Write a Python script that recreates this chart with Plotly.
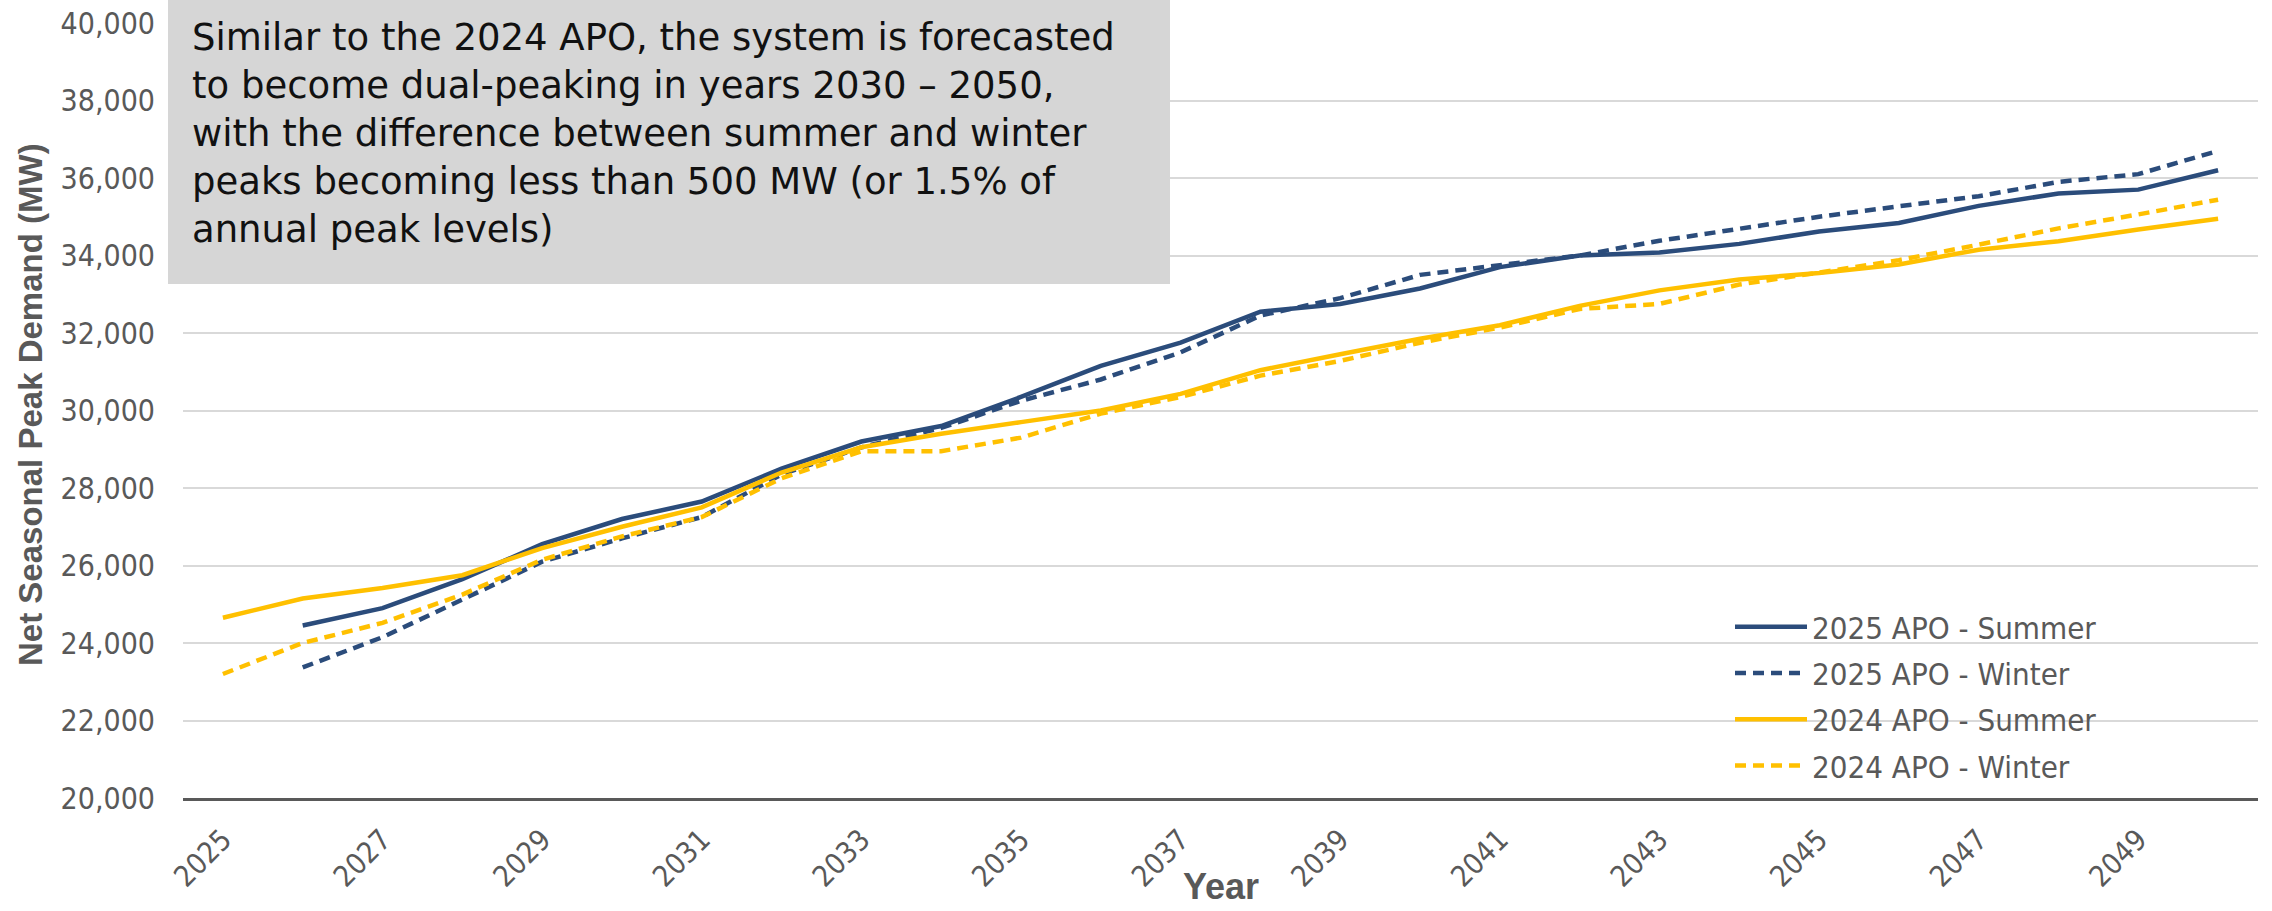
import plotly.graph_objects as go

# Forecast years (category axis, one point per year)
years = list(range(2025, 2051))
tick_years = list(range(2025, 2050, 2))

# 2025 APO forecasts start in 2026
years_2025apo = list(range(2026, 2051))
apo2025_summer = [24450, 24900, 25650, 26550, 27200, 27650, 28500, 29200, 29600,
                  30350, 31150, 31750, 32550, 32750, 33150, 33700, 34000, 34080,
                  34300, 34620, 34840, 35280, 35600, 35700, 36200]
apo2025_winter = [23370, 24150, 25120, 26100, 26700, 27250, 28350, 29050, 29550,
                  30250, 30800, 31500, 32450, 32900, 33500, 33750, 34000, 34380,
                  34700, 35000, 35270, 35530, 35900, 36100, 36700]

# 2024 APO forecasts start in 2025
years_2024apo = list(range(2025, 2051))
apo2024_summer = [24650, 25150, 25420, 25750, 26450, 27000, 27500, 28400, 29050,
                  29400, 29700, 30000, 30430, 31040, 31450, 31850, 32200, 32700,
                  33100, 33380, 33550, 33770, 34150, 34370, 34670, 34950]
apo2024_winter = [23200, 24000, 24520, 25250, 26150, 26750, 27250, 28250, 28950,
                  28950, 29300, 29920, 30350, 30900, 31280, 31750, 32140, 32620,
                  32750, 33250, 33560, 33880, 34280, 34700, 35060, 35440]

series = [
    ("2025 APO - Summer", years_2025apo, apo2025_summer, "#2b4c7b", "solid"),
    ("2025 APO - Winter", years_2025apo, apo2025_winter, "#2b4c7b", "11px,7px"),
    ("2024 APO - Summer", years_2024apo, apo2024_summer, "#ffc000", "solid"),
    ("2024 APO - Winter", years_2024apo, apo2024_winter, "#ffc000", "11px,7px"),
]

note = ("Similar to the 2024 APO, the system is forecasted<br>"
        "to become dual-peaking in years 2030 \u2013 2050,<br>"
        "with the difference between summer and winter<br>"
        "peaks becoming less than 500 MW (or 1.5% of<br>"
        "annual peak levels)")

W, H = 2272, 911
L, R, T, B = 183, 14, 23, 113
PW, PH = W - L - R, H - T - B


def px_x(p):
    return (p - L) / PW


def px_y(p):
    return (H - B - p) / PH


FONT = "DejaVu Sans Condensed, DejaVu Sans, sans-serif"
NOTE_FONT = "DejaVu Sans, sans-serif"
TITLE_FONT = "Liberation Sans Narrow, Liberation Sans, sans-serif"
GREY = "#595959"

fig = go.Figure()
for i, (name, xs, ys, color, dash) in enumerate(series):
    fig.add_trace(go.Scatter(
        x=xs, y=ys, name=name, mode="lines",
        line=dict(color=color, width=4.5, dash=dash),
        legendgroup=f"g{i}",
    ))

fig.update_layout(
    width=W, height=H,
    margin=dict(l=L, r=R, t=T, b=B, autoexpand=False),
    paper_bgcolor="white", plot_bgcolor="white",
    font=dict(family=FONT, color=GREY, size=30),
    xaxis=dict(
        range=[2024.5, 2050.5], automargin=False,
        tickmode="array", tickvals=tick_years,
        ticktext=[str(y) for y in tick_years],
        tickangle=-45, showgrid=False, zeroline=False,
        showline=True, linecolor=GREY, linewidth=3,
        ticks="", tickfont=dict(size=29, color=GREY),
        ticklabelstandoff=10,
    ),
    yaxis=dict(
        range=[20000, 40000], dtick=2000, automargin=False,
        tickformat=",d", showgrid=True, gridcolor="#d9d9d9", gridwidth=2,
        zeroline=False, showline=False, ticks="",
        tickfont=dict(size=30, color=GREY),
        ticklabelstandoff=27,
    ),
    legend=dict(
        x=px_x(1730), y=px_y(600), xanchor="left", yanchor="top",
        bgcolor="rgba(0,0,0,0)", font=dict(size=31, color=GREY),
        itemwidth=72, tracegroupgap=3, traceorder="grouped",
    ),
    showlegend=True,
)

# Grey callout box with the note
fig.add_shape(
    type="rect", xref="paper", yref="paper",
    x0=px_x(168), x1=px_x(1170), y0=px_y(284), y1=px_y(-2),
    fillcolor="#d6d6d6", line=dict(width=0), layer="above",
)
fig.add_annotation(
    xref="paper", yref="paper", x=px_x(190), y=px_y(14),
    xanchor="left", yanchor="top", align="left", showarrow=False,
    text=note, font=dict(family=NOTE_FONT, size=37, color="#111111"),
)

# Axis titles
fig.add_annotation(
    xref="paper", yref="paper", x=px_x(30), y=px_y(405),
    xanchor="center", yanchor="middle", textangle=-90, showarrow=False,
    text="<b>Net Seasonal Peak Demand (MW)</b>",
    font=dict(family=TITLE_FONT, size=33, color=GREY),
)
fig.add_annotation(
    xref="paper", yref="paper", x=px_x(1221), y=px_y(908),
    xanchor="center", yanchor="bottom", showarrow=False,
    text="<b>Year</b>", borderpad=0,
    font=dict(family=TITLE_FONT, size=36, color=GREY),
)

fig.write_html("out.html", config={"displayModeBar": False})
